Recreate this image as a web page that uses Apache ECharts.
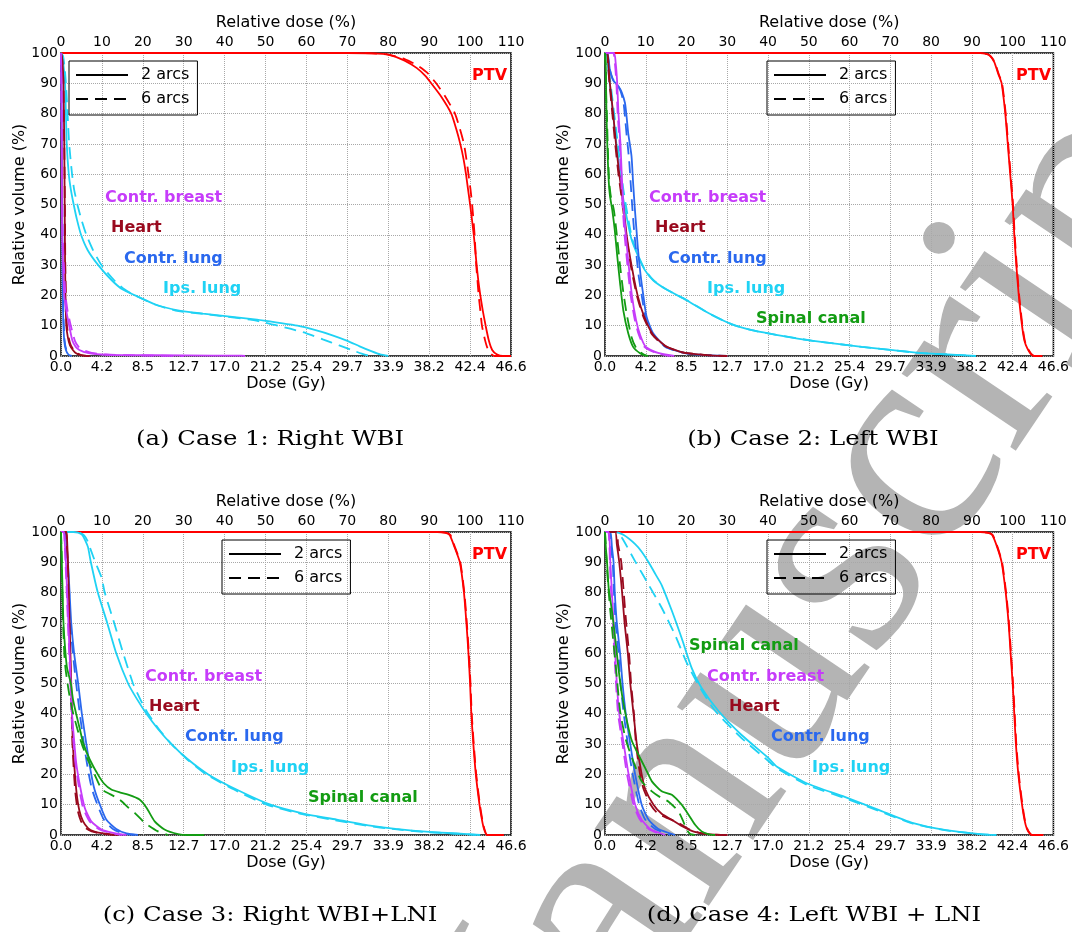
<!DOCTYPE html>
<html>
<head>
<meta charset="utf-8">
<script src="https://cdn.jsdelivr.net/npm/echarts@6/dist/echarts.min.js"></script>
<style>
  html, body { margin: 0; padding: 0; background: #fff; }
  #chart { width: 1072px; height: 932px; }
</style>
</head>
<body>
<div id="chart"></div>
<script>
// tick labels
const relTicks = ['0', '10', '20', '30', '40', '50', '60', '70', '80', '90', '100', '110']
const doseTicks = ['0.0', '4.2', '8.5', '12.7', '17.0', '21.2', '25.4', '29.7', '33.9', '38.2', '42.4', '46.6']
const volTicks = ['0', '10', '20', '30', '40', '50', '60', '70', '80', '90', '100']

// DVH curves, [relative dose %, relative volume %]; _2 = 2 arcs, _6 = 6 arcs
// case 1: right WBI
const a_ptv_2 = [[0,100],[70,100],[76,99.9],[80,99.5],[84,97.5],[87,95],[89,92.5],[90.5,90],[93,85.5],[95.4,80],[96.6,75],[97.6,70],[98.4,65],[99,60],[99.5,55],[100,50],[100.9,40],[101.6,30],[102,25],[102.5,20],[103.1,15],[103.8,10],[104.6,5],[105.4,2],[106.5,0.6],[108,0],[110,0]]
const a_ptv_6 = [[0,100],[70,100],[76,99.9],[80,99.5],[84,98],[87,96],[89.5,93.5],[91.7,90],[94,85.5],[96.3,80],[97.5,75],[98.5,70],[99.1,65],[99.6,60],[100.1,55],[100.5,50],[101.1,40],[101.5,30],[101.8,25],[102.1,20],[102.5,15],[102.9,10],[103.7,5],[104.4,2],[105.2,0.6],[106,0],[109,0]]
const a_breast_2 = [[0,100],[0.1,90],[0.2,60],[0.3,40],[0.5,30],[0.8,20],[1.3,15],[2,10],[2.8,5],[3.6,3],[4.5,2],[6.5,1],[9.8,0.5],[15,0.3],[30,0.2],[44,0.1],[45,0]]
const a_breast_6 = [[0,100],[0.1,90],[0.25,60],[0.4,40],[0.7,30],[1.1,20],[1.6,15],[2.4,10],[3.4,5],[4.3,3],[5.3,2],[7.5,1],[11,0.5],[18,0.2],[30,0]]
const a_heart_2 = [[0,100],[0.3,98],[0.6,90],[0.8,70],[0.9,50],[1,30],[1.1,20],[1.3,10],[1.7,6],[2.2,3.5],[2.9,2],[3.6,1],[4.8,0.3],[7,0]]
const a_heart_6 = [[0,100],[0.3,98],[0.6,90],[0.8,70],[0.95,50],[1.05,30],[1.2,20],[1.45,10],[1.9,6],[2.4,3.5],[3.1,2],[3.9,1],[5,0.3],[7,0]]
const a_lung_2 = [[0,100],[0.1,90],[0.2,70],[0.3,45],[0.4,25],[0.55,12],[0.8,5],[1.2,2],[1.8,0.5],[2.5,0]]
const a_lung_6 = [[0,100],[0.1,90],[0.2,72],[0.32,47],[0.43,27],[0.6,13],[0.85,5.5],[1.3,2],[1.9,0.5],[2.6,0]]
const a_ips_2 = [[0,100],[0.3,99],[0.6,96],[1,90],[1.2,80],[1.4,70],[1.9,60],[2.4,55],[3.1,50],[3.9,45],[4.9,40],[6.5,35],[9.1,30],[12.4,25],[15,22],[18.1,20],[23.1,17],[28.9,15],[34.7,14],[41.3,13],[47.9,12],[53,11],[57.8,10],[62,8.6],[66,7],[70,5],[73,3.2],[76,1.5],[78,0.5],[80,0]]
const a_ips_6 = [[0,100],[0.5,99],[0.9,95],[1.2,90],[1.6,80],[2,70],[2.7,60],[3.2,55],[4,50],[5,45],[6.2,40],[7.8,35],[9.9,30],[13,25],[15.5,22],[18.1,20],[23,17],[28,15],[34,14],[40.5,13],[46.3,12],[50,11],[53,10],[56,9],[60,7.5],[64,5.5],[68,3.5],[71,2],[73.5,0.8],[75.5,0]]

// case 2: left WBI
const b_ptv_2 = [[0,100],[92,100],[93.5,99.7],[94.5,99],[95.5,97],[96.5,93],[97.3,90],[98.2,80],[98.8,70],[99.4,60],[100,50],[100.4,40],[100.9,30],[101.5,20],[102.3,10],[102.9,5],[103.6,2.5],[104.4,0.8],[105.2,0],[107.3,0]]
const b_ptv_6 = [[0,100],[92,100],[93.6,99.7],[94.6,99],[95.6,97],[96.6,93],[97.4,90],[98.3,80],[98.9,70],[99.5,60],[100.1,50],[100.5,40],[101,30],[101.6,20],[102.4,10],[103,5],[103.7,2.5],[104.5,0.8],[105.3,0],[107.3,0]]
const b_breast_2 = [[0,100],[2.2,100],[2.6,97],[3,90],[3.3,80],[3.8,70],[4.1,60],[4.5,50],[5.1,40],[5.8,30],[6.6,20],[7.6,12],[8.6,7],[10,3],[13,1],[17,0]]
const b_breast_6 = [[0,100],[2,100],[2.4,97],[2.8,90],[3.1,80],[3.6,70],[3.9,60],[4.3,50],[4.8,40],[5.5,30],[6.3,20],[7.3,12],[8.3,7],[9.7,3],[12.5,1],[16,0]]
const b_heart_2 = [[0,100],[0.6,100],[0.9,95],[1.2,90],[2,80],[2.7,70],[3.5,60],[4.5,50],[5.3,40],[6.5,30],[8,20],[9.6,13],[11.8,7],[15,3.2],[19,1.2],[24.8,0.3],[30,0]]
const b_heart_6 = [[0,100],[0.5,100],[0.8,95],[1.1,90],[1.8,80],[2.5,70],[3.3,60],[4.3,50],[5.2,40],[6.3,30],[7.8,20],[9.4,13],[11.6,7],[14.8,3.2],[19,1.2],[25,0.3],[30,0]]
const b_lung_2 = [[0,100],[0.6,100],[1.2,94.5],[2,91],[3.3,89],[4.1,87],[4.9,83.5],[5.3,79],[5.7,73.5],[6.5,66],[6.9,57],[7.3,49],[7.7,42],[8.1,35],[8.7,27],[9.4,20],[10.2,13],[11.8,7.5],[15,3],[20,0.9],[26,0.2],[30,0]]
const b_lung_6 = [[0,100],[0.5,100],[1.1,95],[1.9,91.5],[3,89.5],[3.8,87.5],[4.5,84],[4.9,79],[5.3,73],[5.9,65],[6.3,57],[6.7,49],[7.1,42],[7.6,35],[8.2,27],[9,20],[9.9,13],[11.5,7.5],[14.8,3],[20,0.9],[26,0.2],[30,0]]
const b_ips_2 = [[0,100],[0.4,100],[0.8,94.5],[1.6,84.5],[2.4,74.5],[3.3,64.5],[4.1,55],[5.3,46],[6.5,38.5],[8.1,33],[9.7,28.5],[11.8,25],[15,22],[19.9,18.5],[25.6,14],[31,10.5],[36,8.5],[42,7],[51,5],[57,4],[63,3],[70,2],[77,1],[84,0.5],[91,0]]
const b_ips_6 = [[0,100],[0.4,100],[0.9,95],[1.8,85],[2.7,75],[3.6,65],[4.5,55],[5.6,46],[6.7,38.5],[8.2,33],[9.8,28.5],[11.9,25],[15,22],[20,18.5],[25.6,14],[31,10.5],[36,8.5],[42,7],[51,5],[57,4],[63,3],[70,2],[77,1],[84,0.5],[91,0]]
const b_spinal_2 = [[0,100],[0.2,95],[0.3,85],[0.4,78],[0.6,68],[0.9,58],[1.2,53],[1.8,48],[2.4,41.5],[3,33],[3.7,24],[4.5,15],[5.7,7.5],[6.9,3],[8.6,0.9],[10.2,0]]
const b_spinal_6 = [[0,100],[0.2,95],[0.3,85],[0.5,78],[0.7,68],[1,58],[1.4,53],[2.2,48],[2.9,40],[3.6,31],[4.4,22],[5.3,14],[6.5,6.3],[7.7,2.5],[9.4,0.6],[10.6,0]]

// case 3: right WBI + LNI
const c_ptv_2 = [[0,100],[92,100],[94,99.7],[95,99],[96.2,95],[97.5,90],[98.5,80],[99.1,70],[99.6,60],[100,50],[100.3,40],[100.8,30],[101.4,20],[102.3,10],[102.9,5],[103.4,2],[104.1,0],[108.2,0]]
const c_ptv_6 = [[0,100],[92,100],[94.2,99.7],[95.2,99],[96.3,95],[97.6,90],[98.6,80],[99.2,70],[99.7,60],[100.1,50],[100.4,40],[100.9,30],[101.5,20],[102.4,10],[103,5],[103.5,2],[104.2,0],[108.2,0]]
const c_breast_2 = [[0,100],[0.7,100],[0.9,97],[1.2,90],[1.5,80],[1.8,70],[2.1,60],[2.4,50],[2.7,40],[3.1,33],[3.7,24],[4.6,16.5],[5.8,9],[7.4,4.5],[9.9,1.8],[13,0.6],[16,0]]
const c_breast_6 = [[0,100],[0.7,100],[0.9,97],[1.1,90],[1.4,80],[1.7,70],[2,60],[2.3,50],[2.6,40],[2.9,33],[3.5,24],[4.3,16.5],[5.4,9],[7,4.5],[9.4,1.8],[12.5,0.6],[15,0]]
const c_heart_2 = [[0,100],[1.3,100],[1.5,97],[1.7,90],[1.9,80],[2.1,70],[2.3,60],[2.5,50],[2.7,40],[2.9,30],[3.3,22],[3.8,14],[4.5,8],[5.4,4.5],[6.6,2.3],[8,1.2],[9.9,0.6],[13,0.1],[14,0]]
const c_heart_6 = [[0,100],[1.2,100],[1.4,97],[1.6,90],[1.8,80],[2,70],[2.2,60],[2.4,50],[2.6,40],[2.8,30],[3.1,22],[3.5,14],[4.1,8],[4.9,4.5],[6,2.3],[7.5,1.2],[9.4,0.6],[12,0.1],[13,0]]
const c_lung_2 = [[0,100],[1,100],[1.3,97],[1.7,90],[2.1,80],[2.5,70],[3.2,60],[4.2,50],[5.1,40],[6.2,30],[7.4,20],[8.2,15],[9.5,10],[11.1,5],[13.5,2],[16,0.5],[18.8,0]]
const c_lung_6 = [[0,100],[1,100],[1.3,97],[1.6,90],[2,80],[2.3,70],[2.9,60],[3.7,50],[4.6,40],[5.6,30],[6.8,20],[7.6,15],[8.9,10],[10.5,5],[12.7,2],[15.2,0.5],[18,0]]
const c_ips_2 = [[0,100],[3,100],[4.2,99.8],[5.2,99],[6,97],[6.6,95],[7.3,90],[9,80],[11.3,70],[13.5,60],[16.4,50],[18.5,45],[20.9,40],[23.7,35],[27,30],[31,25],[36,20],[42.9,15],[51.2,10],[59.5,7],[67.7,5],[76,3],[81.8,2],[90,1],[96.6,0.5],[102.5,0]]
const c_ips_6 = [[0,100],[3,100],[4.5,99.8],[5.6,99],[6.5,97],[7.3,94],[8.4,90],[9.9,85],[10.7,80],[13,70],[15.2,60],[17.6,50],[19.3,45],[21.3,40],[23.9,35],[27,30],[30.8,25],[35.5,20],[42.3,15],[50.3,10],[58.6,7],[66.5,5],[75,3],[81,2],[89,1],[96,0.5],[101.5,0]]
const c_spinal_2 = [[0,100],[0.2,90],[0.4,80],[0.6,70],[1.1,60],[1.5,55],[2.4,50],[2.9,45],[3.7,40],[4.6,35],[5.5,30],[7,25],[9,20],[10.5,17],[12.3,15],[14.5,14],[16.4,13.3],[19.2,11.7],[20.9,9],[22.9,4.5],[25.3,1.8],[28.6,0.3],[31,0],[35,0]]
const c_spinal_6 = [[0,100],[0.2,90],[0.3,80],[0.5,70],[0.8,60],[1.1,55],[1.6,50],[2.2,45],[3,40],[4,35],[5.1,30],[6.5,25],[8.2,20],[10,15],[12,13.5],[14.3,11.7],[16.5,9],[18,7.3],[20.5,4],[23.7,1.2],[26.2,0]]

// case 4: left WBI + LNI
const d_ptv_2 = [[0,100],[92,100],[94,99.7],[95,99],[96.2,95],[97.3,90],[98.3,80],[99,70],[99.5,60],[100,50],[100.4,40],[100.8,30],[101.4,20],[102.3,10],[102.9,5],[103.5,2],[104.3,0.3],[105,0],[107.5,0]]
const d_ptv_6 = [[0,100],[92,100],[94.1,99.7],[95.1,99],[96.3,95],[97.4,90],[98.4,80],[99.1,70],[99.6,60],[100.1,50],[100.5,40],[100.9,30],[101.5,20],[102.4,10],[103,5],[103.6,2],[104.4,0.3],[105.1,0],[107.5,0]]
const d_breast_2 = [[0,100],[0.9,100],[1.2,95],[1.3,90],[1.7,80],[2.1,70],[2.5,60],[2.9,50],[3.5,40],[4.6,30],[5.8,20],[7.4,10],[9,5],[11.1,2],[14.8,0]]
const d_breast_6 = [[0,100],[0.8,100],[1.1,95],[1.2,90],[1.5,80],[1.9,70],[2.3,60],[2.7,50],[3.2,40],[4.3,30],[5.4,20],[7,10],[8.6,5],[10.7,2],[14,0]]
const d_heart_2 = [[0,100],[2.5,100],[2.9,96],[3.5,90],[4.2,80],[4.8,70],[5.6,60],[6.2,50],[7,40],[7.8,30],[9,20],[9.9,15],[11.9,10],[13.9,7],[16.4,5],[18.8,3],[22,1],[25.3,0.3],[30,0]]
const d_heart_6 = [[0,100],[2.8,100],[3.2,96],[4,90],[4.6,80],[5.2,70],[5.9,60],[6.4,50],[7.1,40],[7.6,30],[8.6,20],[9.5,15],[11.2,10],[13,7],[15.5,5.5],[18,4],[20.5,2],[23,0.8],[26,0.2],[30,0]]
const d_lung_2 = [[0,100],[1.3,100],[1.7,95],[2.1,90],[2.4,80],[2.9,70],[3.7,60],[4.3,50],[5.1,40],[6.2,30],[7.4,20],[9,10],[10.7,5],[13.1,2],[17.2,0]]
const d_lung_6 = [[0,100],[1.2,100],[1.5,95],[1.9,90],[2.2,80],[2.6,70],[3.3,60],[3.8,50],[4.6,40],[5.6,30],[6.8,20],[8.4,10],[9.9,5],[12.3,2],[16,0]]
const d_ips_2 = [[0,100],[2.5,100],[4.6,99],[7.4,96],[9,93.5],[10.7,90],[12.4,86],[13.9,82.5],[16.4,74],[18.8,65],[21.3,55],[23.7,48.5],[27.8,41],[33.5,33],[40,25.5],[42.2,22.5],[49.6,17],[58.8,12.6],[67.1,8.3],[75.4,4],[83.7,1.6],[92,0.3],[96,0]]
const d_ips_6 = [[0,100],[3,100],[4.2,98],[7.4,90.3],[10.7,82.6],[13.9,75],[17.2,66],[20,57],[22.9,49.6],[27,41],[33.5,32],[40,24.5],[42.2,22],[49.6,16.5],[58.8,12.2],[67.1,8],[75.4,3.8],[83.7,1.5],[92,0.3],[96,0]]
const d_spinal_2 = [[0,100],[0.2,95],[0.5,90],[0.9,81.5],[1.7,74],[2.5,65],[3.3,55],[4.2,46],[5.4,37.5],[6.6,31],[8.2,26.5],[9.9,22],[11.5,17.7],[13.9,14.4],[16.4,13.3],[18.8,10],[20.5,6.7],[22.1,3.4],[23.7,1.2],[25.3,0.3],[27,0]]
const d_spinal_6 = [[0,100],[0.2,95],[0.4,90],[0.8,82],[1.3,74],[2.1,63],[2.9,52],[3.7,41],[5,32],[6.6,25.5],[9,17.7],[11.5,14.4],[13.5,12.5],[15.6,11],[18,7.8],[19.2,4.5],[20,1.8],[20.9,0.3],[22,0]]

const captions = ['(a) Case 1: Right WBI', '(b) Case 2: Left WBI', '(c) Case 3: Right WBI+LNI', '(d) Case 4: Left WBI + LNI']

// ---- styling / layout ----
const FONT = 'DejaVu Sans'
const C = {
  ptv: '#ff0000',
  breast: '#c63cfa',
  heart: '#990a1e',
  lung: '#2a68ee',
  ips: '#1fd2f4',
  spinal: '#139c13'
}
const DASH = [12, 7]

const grids = [
  { left: 61, top: 53, width: 450, height: 303 },
  { left: 605, top: 53, width: 450, height: 303 },
  { left: 61, top: 532, width: 450, height: 303 },
  { left: 605, top: 532, width: 450, height: 303 }
]

const panels = [
  [['ptv', a_ptv_2, a_ptv_6], ['ips', a_ips_2, a_ips_6], ['lung', a_lung_2, a_lung_6], ['heart', a_heart_2, a_heart_6], ['breast', a_breast_2, a_breast_6]],
  [['ptv', b_ptv_2, b_ptv_6], ['ips', b_ips_2, b_ips_6], ['lung', b_lung_2, b_lung_6], ['heart', b_heart_2, b_heart_6], ['breast', b_breast_2, b_breast_6], ['spinal', b_spinal_2, b_spinal_6]],
  [['ptv', c_ptv_2, c_ptv_6], ['ips', c_ips_2, c_ips_6], ['lung', c_lung_2, c_lung_6], ['heart', c_heart_2, c_heart_6], ['breast', c_breast_2, c_breast_6], ['spinal', c_spinal_2, c_spinal_6]],
  [['ptv', d_ptv_2, d_ptv_6], ['ips', d_ips_2, d_ips_6], ['lung', d_lung_2, d_lung_6], ['heart', d_heart_2, d_heart_6], ['breast', d_breast_2, d_breast_6], ['spinal', d_spinal_2, d_spinal_6]]
]

// annotation text: [text, colour key, x px, y px]
const notes = [
  ['Contr. breast', 'breast', 105, 198], ['Heart', 'heart', 111, 228], ['Contr. lung', 'lung', 124, 259], ['Ips. lung', 'ips', 163, 289], ['PTV', 'ptv', 472, 76],
  ['Contr. breast', 'breast', 649, 198], ['Heart', 'heart', 655, 228], ['Contr. lung', 'lung', 668, 259], ['Ips. lung', 'ips', 707, 289], ['Spinal canal', 'spinal', 756, 319], ['PTV', 'ptv', 1016, 76],
  ['Contr. breast', 'breast', 145, 677], ['Heart', 'heart', 149, 707], ['Contr. lung', 'lung', 185, 737], ['Ips. lung', 'ips', 231, 768], ['Spinal canal', 'spinal', 308, 798], ['PTV', 'ptv', 472, 555],
  ['Spinal canal', 'spinal', 689, 646], ['Contr. breast', 'breast', 707, 677], ['Heart', 'heart', 729, 707], ['Contr. lung', 'lung', 771, 737], ['Ips. lung', 'ips', 812, 768], ['PTV', 'ptv', 1016, 555]
]
const legendPos = [[69, 61], [767, 61], [222, 540], [767, 540]]
const captionPos = [[270, 440], [813, 440], [270, 916], [814, 916]]

const chart = echarts.init(document.getElementById('chart'))

const xAxis = []
const yAxis = []
grids.forEach((g, i) => {
  xAxis.push({
    type: 'value', gridIndex: i, position: 'bottom', min: 0, max: 110, interval: 10,
    axisLine: { show: false }, axisTick: { show: false },
    axisLabel: { formatter: v => doseTicks[Math.round(v / 10)], color: '#000', fontSize: 14, fontFamily: FONT, margin: 4 },
    splitLine: { show: true, lineStyle: { color: '#a8a8a8', type: 'dotted', width: 1 } },
    name: 'Dose (Gy)', nameLocation: 'middle', nameGap: 20,
    nameTextStyle: { color: '#000', fontSize: 16, fontFamily: FONT }
  })
  xAxis.push({
    type: 'value', gridIndex: i, position: 'top', min: 0, max: 110, interval: 10,
    axisLine: { show: false }, axisTick: { show: false }, splitLine: { show: false },
    axisLabel: { formatter: v => relTicks[Math.round(v / 10)], color: '#000', fontSize: 14, fontFamily: FONT, margin: 4 },
    name: 'Relative dose (%)', nameLocation: 'middle', nameGap: 22,
    nameTextStyle: { color: '#000', fontSize: 16, fontFamily: FONT }
  })
  yAxis.push({
    type: 'value', gridIndex: i, min: 0, max: 100, interval: 10,
    axisLine: { show: false }, axisTick: { show: false },
    axisLabel: { formatter: v => volTicks[Math.round(v / 10)], color: '#000', fontSize: 14, fontFamily: FONT, margin: 3 },
    splitLine: { show: true, lineStyle: { color: '#a8a8a8', type: 'dotted', width: 1 } },
    name: 'Relative volume (%)', nameLocation: 'middle', nameGap: 33,
    nameTextStyle: { color: '#000', fontSize: 16, fontFamily: FONT }
  })
})

const series = []
panels.forEach((list, i) => {
  list.forEach(([key, solid, dashed]) => {
    [[solid, 'solid'], [dashed, DASH]].forEach(([data, type]) => {
      series.push({
        type: 'line', name: key + i, xAxisIndex: i * 2, yAxisIndex: i, data: data,
        symbol: 'none', smooth: 0.2, clip: false, silent: true,
        lineStyle: { color: C[key], width: 1.8, type: type }
      })
    })
  })
})
// legend entries
series.push({ type: 'line', name: '2 arcs', xAxisIndex: 0, yAxisIndex: 0, data: [], symbol: 'none', color: '#000', lineStyle: { color: '#000', width: 2 } })
series.push({ type: 'line', name: '6 arcs', xAxisIndex: 0, yAxisIndex: 0, data: [], symbol: 'none', color: '#000', lineStyle: { color: '#000', width: 2, type: DASH } })

const legend = legendPos.map(([x, y]) => ({
  data: ['2 arcs', '6 arcs'], orient: 'vertical', left: x, top: y,
  padding: [6, 8, 8, 6], itemWidth: 52, itemHeight: 16, itemGap: 8,
  borderColor: '#000', borderWidth: 1, borderRadius: 0, selectedMode: false,
  itemStyle: { opacity: 0 },
  lineStyle: { width: 2 },
  textStyle: { color: '#000', fontSize: 16, fontFamily: FONT, padding: [0, 0, 0, 8] }
}))

const graphic = []
// watermark
graphic.push({
  type: 'text', x: 416, y: 1199, rotation: 56 * Math.PI / 180, z: -10, silent: true,
  style: { text: 'Manuscript', font: '300px "Liberation Serif"', fill: '#b4b4b4', align: 'left', verticalAlign: 'middle' }
})
notes.forEach(([t, key, x, y]) => {
  graphic.push({
    type: 'text', x: x, y: y, z: 10, silent: true,
    style: { text: t, fill: C[key], font: 'bold 16px "DejaVu Sans"', align: 'left', verticalAlign: 'middle' }
  })
})
captions.forEach((t, i) => {
  graphic.push({
    type: 'text', x: captionPos[i][0], y: captionPos[i][1], scaleX: 1.16, z: 10, silent: true,
    style: { text: t, fill: '#000', font: '21px "DejaVu Serif"', align: 'center', verticalAlign: 'middle' }
  })
})

chart.setOption({
  animation: false,
  backgroundColor: '#fff',
  grid: grids.map(g => Object.assign({ show: true, borderColor: '#000', borderWidth: 1.5, backgroundColor: 'transparent' }, g)),
  xAxis: xAxis,
  yAxis: yAxis,
  legend: legend,
  series: series,
  graphic: graphic
})

window.addEventListener('resize', () => {
  chart && chart.resize()
})
</script>
</body>
</html>
